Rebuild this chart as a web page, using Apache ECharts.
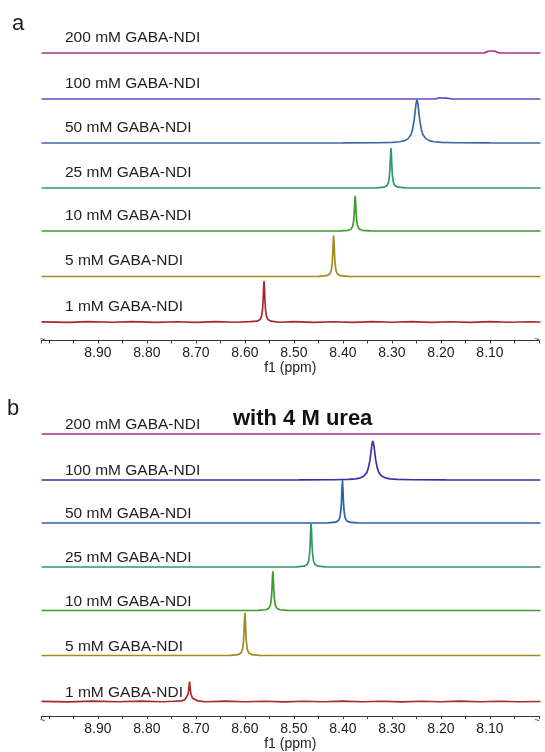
<!DOCTYPE html>
<html>
<head>
<meta charset="utf-8">
<script src="https://cdn.jsdelivr.net/npm/echarts@6/dist/echarts.min.js"></script>
<style>
  html, body { margin: 0; padding: 0; background: #fff; }
  #chart { width: 545px; height: 752px; }
</style>
</head>
<body>
<div id="chart"></div>
<script>
// 1H NMR spectra (aromatic NDI region) of GABA-NDI at several concentrations.
// Each trace: [chemical shift (ppm), relative intensity].

const labels = ['200 mM GABA-NDI', '100 mM GABA-NDI', '50 mM GABA-NDI', '25 mM GABA-NDI',
                '10 mM GABA-NDI', '5 mM GABA-NDI', '1 mM GABA-NDI'];
const tickLabels = ['8.90', '8.80', '8.70', '8.60', '8.50', '8.40', '8.30', '8.20', '8.10'];
const axisTitle = 'f1 (ppm)';
const ureaNote = 'with 4 M urea';

// ---- panel a: D2O ----
const a200 = [[9.015, 0], [8.112, 0], [8.107, 0.025], [8.102, 0.045], [8.098, 0.03], [8.094, 0.045],
              [8.089, 0.035], [8.083, 0.01], [8.077, 0], [7.997, 0]];
const a100 = [[9.015, 0], [8.212, 0], [8.206, 0.018], [8.200, 0.028], [8.195, 0.016], [8.190, 0.026],
              [8.184, 0.012], [8.178, 0], [7.997, 0]];
const a50 = [[9.015, 0], [8.40, 0.001], [8.329, 0.005], [8.299, 0.014], [8.284, 0.028], [8.274, 0.053],
             [8.267, 0.097], [8.261, 0.19], [8.258, 0.30], [8.255, 0.485], [8.253, 0.67], [8.251, 0.87],
             [8.249, 0.97], [8.247, 0.87], [8.245, 0.67], [8.243, 0.485], [8.240, 0.30], [8.237, 0.19],
             [8.231, 0.097], [8.224, 0.053], [8.214, 0.028], [8.199, 0.014], [8.169, 0.005], [8.10, 0.001],
             [7.997, 0]];
const a25 = [[9.015, 0], [8.332, 0.004], [8.316, 0.018], [8.310, 0.053], [8.307, 0.125], [8.305, 0.28],
             [8.304, 0.445], [8.303, 0.71], [8.302, 0.89], [8.301, 0.71], [8.300, 0.445], [8.299, 0.28],
             [8.297, 0.125], [8.294, 0.053], [8.288, 0.018], [8.272, 0.004], [7.997, 0]];
const a10 = [[9.015, 0], [8.405, 0.003], [8.389, 0.016], [8.383, 0.046], [8.380, 0.11], [8.378, 0.24],
             [8.377, 0.39], [8.376, 0.62], [8.375, 0.78], [8.374, 0.62], [8.373, 0.39], [8.372, 0.24],
             [8.370, 0.11], [8.367, 0.046], [8.361, 0.016], [8.345, 0.003], [7.997, 0]];
const a5 = [[9.015, 0], [8.449, 0.004], [8.433, 0.018], [8.427, 0.054], [8.424, 0.127], [8.422, 0.28],
            [8.421, 0.455], [8.420, 0.73], [8.419, 0.91], [8.418, 0.73], [8.417, 0.455], [8.416, 0.28],
            [8.414, 0.127], [8.411, 0.054], [8.405, 0.018], [8.389, 0.004], [7.997, 0]];
const a1 = [[9.015, 0.004], [8.96, -0.008], [8.92, 0.008], [8.87, -0.006], [8.83, 0.009], [8.78, -0.007],
            [8.74, 0.006], [8.70, -0.009], [8.66, 0.007], [8.62, -0.006], [8.59, 0.008],
            [8.575, 0.018], [8.569, 0.054], [8.566, 0.127], [8.564, 0.28], [8.563, 0.455], [8.562, 0.73],
            [8.561, 0.91], [8.560, 0.73], [8.559, 0.455], [8.558, 0.28], [8.556, 0.127], [8.553, 0.054],
            [8.547, 0.018], [8.53, -0.006], [8.50, 0.008], [8.46, -0.007], [8.42, 0.006], [8.38, -0.008],
            [8.34, 0.007], [8.30, -0.006], [8.26, 0.009], [8.22, -0.007], [8.18, 0.006], [8.14, -0.008],
            [8.10, 0.007], [8.06, -0.006], [8.02, 0.006], [7.997, 0]];

// ---- panel b: with 4 M urea ----
const b200 = [[9.015, 0], [7.997, 0]];
const b100 = [[9.015, 0], [8.49, 0.001], [8.419, 0.005], [8.389, 0.013], [8.374, 0.026], [8.364, 0.048],
              [8.357, 0.087], [8.351, 0.17], [8.348, 0.27], [8.345, 0.435], [8.343, 0.60], [8.341, 0.78],
              [8.339, 0.87], [8.337, 0.78], [8.335, 0.60], [8.333, 0.435], [8.330, 0.27], [8.327, 0.17],
              [8.321, 0.087], [8.314, 0.048], [8.304, 0.026], [8.289, 0.013], [8.259, 0.005], [8.19, 0.001],
              [7.997, 0]];
const b50 = [[9.015, 0], [8.431, 0.004], [8.415, 0.019], [8.409, 0.056], [8.406, 0.133], [8.404, 0.295],
             [8.403, 0.475], [8.402, 0.76], [8.401, 0.95], [8.400, 0.76], [8.399, 0.475], [8.398, 0.295],
             [8.396, 0.133], [8.393, 0.056], [8.387, 0.019], [8.371, 0.004], [7.997, 0]];
const b25 = [[9.015, 0], [8.495, 0.004], [8.479, 0.019], [8.473, 0.057], [8.470, 0.134], [8.468, 0.30],
             [8.467, 0.48], [8.466, 0.77], [8.465, 0.96], [8.464, 0.77], [8.463, 0.48], [8.462, 0.30],
             [8.460, 0.134], [8.457, 0.057], [8.451, 0.019], [8.435, 0.004], [7.997, 0]];
const b10 = [[9.015, 0], [8.573, 0.003], [8.557, 0.017], [8.551, 0.051], [8.548, 0.12], [8.546, 0.27],
             [8.545, 0.435], [8.544, 0.70], [8.543, 0.87], [8.542, 0.70], [8.541, 0.435], [8.540, 0.27],
             [8.538, 0.12], [8.535, 0.051], [8.529, 0.017], [8.513, 0.003], [7.997, 0]];
const b5 = [[9.015, 0], [8.630, 0.004], [8.614, 0.019], [8.608, 0.056], [8.605, 0.133], [8.603, 0.295],
            [8.602, 0.475], [8.601, 0.76], [8.600, 0.95], [8.599, 0.76], [8.598, 0.475], [8.597, 0.295],
            [8.595, 0.133], [8.592, 0.056], [8.586, 0.019], [8.570, 0.004], [7.997, 0]];
const b1 = [[9.015, 0.003], [8.96, -0.007], [8.91, 0.007], [8.86, -0.006], [8.81, 0.008], [8.77, -0.006],
            [8.745, 0.006], [8.730, 0.012], [8.723, 0.035], [8.719, 0.075], [8.716, 0.16], [8.715, 0.23],
            [8.714, 0.33], [8.713, 0.44], [8.712, 0.33], [8.711, 0.23], [8.710, 0.16], [8.707, 0.075],
            [8.703, 0.035], [8.696, 0.012], [8.68, -0.005], [8.64, 0.007], [8.60, -0.006], [8.56, 0.006],
            [8.52, -0.007], [8.48, 0.006], [8.44, -0.006], [8.40, 0.007], [8.36, -0.005], [8.32, 0.006],
            [8.28, -0.007], [8.24, 0.006], [8.20, -0.006], [8.16, 0.007], [8.12, -0.006], [8.08, 0.006],
            [8.04, -0.005], [7.997, 0]];

const tracesA = [a200, a100, a50, a25, a10, a5, a1];
const tracesB = [b200, b100, b50, b25, b10, b5, b1];

const colorsA = ['#a5338f', '#6a48c4', '#3a69a8', '#2f9a60', '#3d9c2c', '#a08b1e', '#a82a2c'];
const colorsB = ['#a5338f', '#3b30a6', '#2a62a6', '#2f9a60', '#3d9c2c', '#a08b1e', '#a82a2c'];

// layout (pixel positions of each trace baseline and of each axis line)
const baselinesA = [53, 99, 143, 188, 231, 276.5, 322];
const baselinesB = [434, 480, 523, 567, 610.5, 655.5, 701.5];
const axisLineA = 340.5;
const axisLineB = 721;
const LEFT = 41.5, RIGHT = 6, ROW = 45;
const X_MIN = 8.0, X_MAX = 9.015;
const FONT = '"Liberation Sans", Arial, sans-serif';

const grid = [], xAxis = [], yAxis = [], series = [], graphic = [];

function hiddenX(idx) {
  return { gridIndex: idx, type: 'value', min: X_MIN, max: X_MAX, inverse: true, show: false };
}

function addPanel(traces, colors, baselines, axisLine, labelOffset) {
  traces.forEach((data, i) => {
    const gi = grid.length;
    grid.push({ left: LEFT, right: RIGHT, top: baselines[i] - ROW, height: ROW });
    xAxis.push(hiddenX(gi));
    yAxis.push({ gridIndex: gi, type: 'value', min: 0, max: 1, show: false });
    series.push({
      type: 'line', xAxisIndex: gi, yAxisIndex: gi, data: data,
      symbol: 'none', clip: false, animation: false,
      lineStyle: { color: colors[i], width: 1.7 }
    });
    graphic.push({
      type: 'text', left: 65, top: baselines[i] - labelOffset - 6,
      style: { text: labels[i], font: '15.5px ' + FONT, fill: '#1e1e1e' }
    });
  });
  // chemical-shift axis
  const gi = grid.length;
  grid.push({ left: LEFT, right: RIGHT, top: axisLine - 20, height: 20 });
  xAxis.push({
    gridIndex: gi, type: 'value', min: X_MIN, max: X_MAX, interval: 0.05, inverse: true,
    position: 'bottom',
    axisLine: { show: true, lineStyle: { color: '#3a3a3a', width: 1 } },
    axisTick: { show: true, length: 3, lineStyle: { color: '#3a3a3a' } },
    splitLine: { show: false },
    axisLabel: {
      margin: 6, color: '#222', fontSize: 14, fontFamily: FONT, showMinLabel: true, showMaxLabel: true,
      formatter: v => { const s = v.toFixed(2); return tickLabels.includes(s) ? s : ''; }
    },
    name: axisTitle, nameLocation: 'middle', nameGap: 21,
    nameTextStyle: { color: '#222', fontSize: 14, fontFamily: FONT }
  });
  yAxis.push({ gridIndex: gi, type: 'value', min: 0, max: 1, show: false });
  series.push({ type: 'line', xAxisIndex: gi, yAxisIndex: gi, data: [], symbol: 'none' });
  // axis break marks at both ends
  [LEFT - 2, 545 - RIGHT - 5].forEach(x => {
    graphic.push({
      type: 'text', left: x, top: axisLine - 5,
      style: { text: '~', font: '10px ' + FONT, fill: '#555' }
    });
  });
}

addPanel(tracesA, colorsA, baselinesA, axisLineA, 17.5);
addPanel(tracesB, colorsB, baselinesB, axisLineB, 11);

graphic.push(
  { type: 'text', left: 12, top: 13, style: { text: 'a', font: '22px ' + FONT, fill: '#1e1e1e' } },
  { type: 'text', left: 7, top: 398, style: { text: 'b', font: '22px ' + FONT, fill: '#1e1e1e' } },
  { type: 'text', left: 233, top: 408, style: { text: ureaNote, font: 'bold 22px ' + FONT, fill: '#111' } }
);

const chart = echarts.init(document.getElementById('chart'), null, { renderer: 'canvas' });
chart.setOption({
  animation: false,
  backgroundColor: '#fff',
  grid, xAxis, yAxis, series, graphic
});
</script>
</body>
</html>
